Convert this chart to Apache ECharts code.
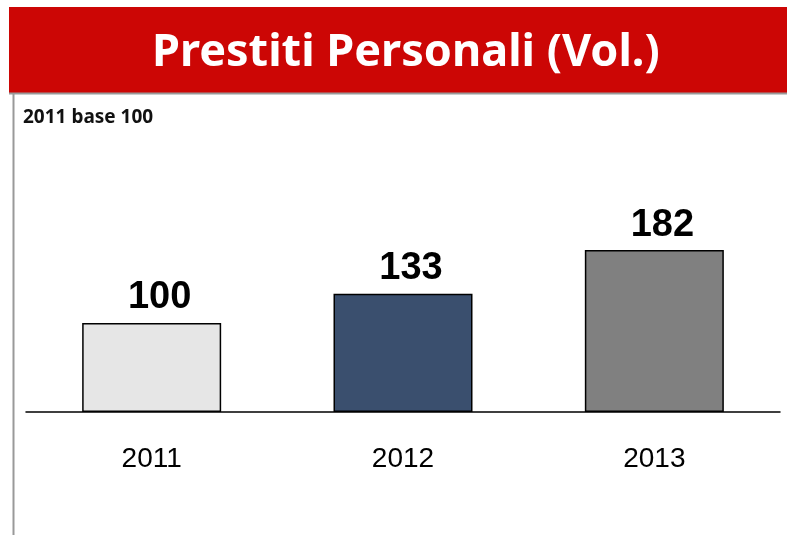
<!DOCTYPE html>
<html>
<head>
<meta charset="utf-8">
<script src="https://cdn.jsdelivr.net/npm/echarts@6/dist/echarts.min.js"></script>
<style>
  html, body { margin: 0; padding: 0; background: #fff; }
  #main { width: 787px; height: 535px; }
</style>
</head>
<body>
<div id="main"></div>
<script>
// dati
var years = ['2011', '2012', '2013'];
var volumes = [100, 133, 182];
var barColors = ['#e6e6e6', '#3a4f6e', '#808080'];

var chart = echarts.init(document.getElementById('main'));
chart.setOption({
  animation: false,
  graphic: [
    // banner rosso del titolo
    {
      type: 'rect',
      shape: { x: 9, y: 7, width: 778, height: 86 },
      style: { fill: '#cc0605' }
    },
    {
      type: 'line',
      shape: { x1: 9, y1: 93.5, x2: 787, y2: 93.5 },
      style: { stroke: '#999999', lineWidth: 2 }
    },
    {
      type: 'line',
      shape: { x1: 13.5, y1: 93, x2: 13.5, y2: 535 },
      style: { stroke: '#999999', lineWidth: 2 }
    },
    {
      type: 'text',
      left: 152,
      top: 31,
      style: {
        text: 'Prestiti Personali (Vol.)',
        fill: '#ffffff',
        font: 'bold 45px "Noto Sans"'
      }
    },
    {
      type: 'text',
      left: 23,
      top: 108,
      style: {
        text: '2011 base 100',
        fill: '#111111',
        font: 'bold 19px "Noto Sans"'
      }
    }
  ],
  grid: { left: 26, right: 7, top: 234, bottom: 123 },
  xAxis: {
    type: 'category',
    data: years,
    axisLine: { lineStyle: { color: '#000', width: 1.5 } },
    axisTick: { show: false },
    axisLabel: {
      color: '#000',
      fontSize: 28,
      fontFamily: '"Liberation Sans", Arial',
      margin: 33
    }
  },
  yAxis: {
    type: 'value',
    min: 0,
    max: 200,
    show: false,
    splitLine: { show: false }
  },
  series: [{
    type: 'bar',
    barWidth: 139,
    data: volumes.map(function (v, i) {
      return { value: v, itemStyle: { color: barColors[i] } };
    }),
    itemStyle: { borderColor: '#000', borderWidth: 1.5 },
    label: {
      show: true,
      position: 'top',
      distance: 6,
      offset: [8, 0],
      color: '#000',
      fontSize: 38,
      fontWeight: 'bold',
      fontFamily: '"Liberation Sans", Arial'
    }
  }]
});
</script>
</body>
</html>
